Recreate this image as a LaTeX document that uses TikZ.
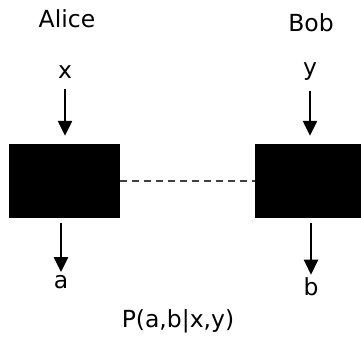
\documentclass[tikz,border=0pt]{standalone}
\usepackage{fontspec}
\setmainfont{DejaVu Sans}
\usetikzlibrary{arrows.meta}
\tikzset{
  blackbox/.style={fill=black, draw=none, inner sep=0pt, minimum width=111pt, minimum height=74pt},
  lbl/.style={inner sep=0pt, font=\fontsize{23.5}{27}\selectfont},
  arr/.style={line width=2.4pt, -{Triangle[length=15pt,width=14pt]}},
  link/.style={line width=1.3pt, black!75, dash pattern=on 7pt off 5pt}
}
\begin{document}
\begin{tikzpicture}[x=1pt,y=-1pt]
\useasboundingbox[fill=white] (0,0) rectangle (361,343);
\node[blackbox] (A) at (64.5,181) {};
\node[blackbox] (B) at (310.5,181) {};
\node[lbl] (alice) at (67,19) {Alice};
\node[lbl] (bob) at (311,23) {Bob};
\node[lbl] (xl) at (65,72.5) {x};
\node[lbl] (yl) at (310,71.5) {y};
\node[lbl] (al) at (61,282) {a};
\node[lbl] (bl) at (311,287) {b};
\node[lbl] (p) at (178,321) {P(a,b|x,y)};
\draw[arr, shorten <=10pt, shorten >=8pt] (xl.south) -- (xl.south |- A.north);
\draw[arr, shorten <=10pt, shorten >=8pt] (yl.south) -- (yl.south |- B.north);
\draw[arr, shorten <=5pt, shorten >=3pt] (al.north |- A.south) -- (al.north);
\draw[arr, shorten <=5pt, shorten >=3pt] (bl.north |- B.south) -- (bl.north);
\draw[link] (A.east) -- (B.west);
\end{tikzpicture}
\end{document}
